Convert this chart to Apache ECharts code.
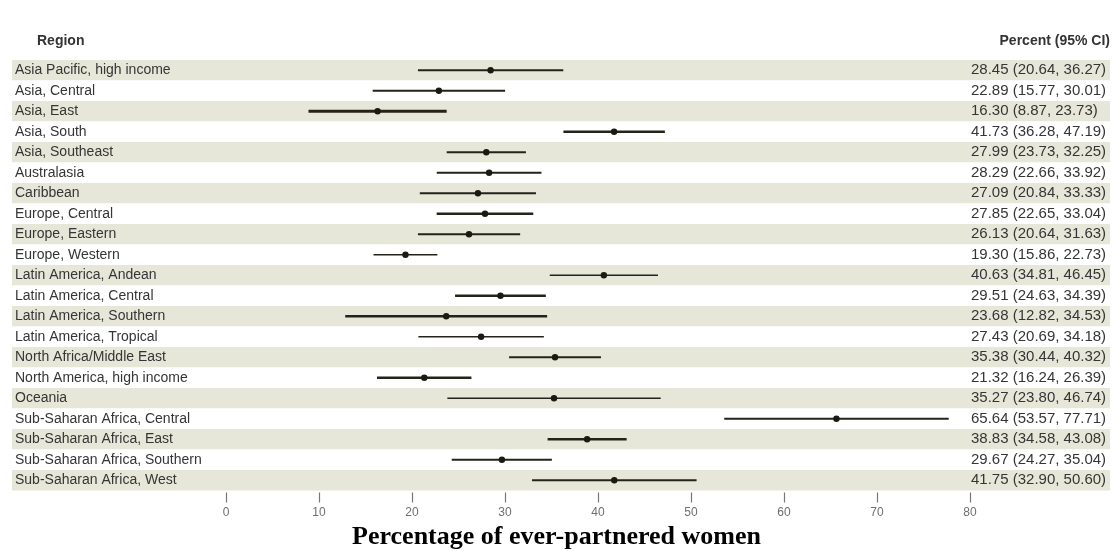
<!DOCTYPE html>
<html>
<head>
<meta charset="utf-8">
<script src="https://cdn.jsdelivr.net/npm/echarts@6/dist/echarts.min.js"></script>
<style>
html,body{margin:0;padding:0;background:#fff;}
#chart{width:1113px;height:551px;}
</style>
</head>
<body>
<div id="chart"></div>
<script>
const regions = [
  "Asia Pacific, high income","Asia, Central","Asia, East","Asia, South","Asia, Southeast",
  "Australasia","Caribbean","Europe, Central","Europe, Eastern","Europe, Western",
  "Latin America, Andean","Latin America, Central","Latin America, Southern","Latin America, Tropical",
  "North Africa/Middle East","North America, high income","Oceania","Sub-Saharan Africa, Central",
  "Sub-Saharan Africa, East","Sub-Saharan Africa, Southern","Sub-Saharan Africa, West"
];
const estimates = [28.45,22.89,16.30,41.73,27.99,28.29,27.09,27.85,26.13,19.30,40.63,29.51,23.68,27.43,35.38,21.32,35.27,65.64,38.83,29.67,41.75];
const lower    = [20.64,15.77,8.87,36.28,23.73,22.66,20.84,22.65,20.64,15.86,34.81,24.63,12.82,20.69,30.44,16.24,23.80,53.57,34.58,24.27,32.90];
const upper    = [36.27,30.01,23.73,47.19,32.25,33.92,33.33,33.04,31.63,22.73,46.45,34.39,34.53,34.18,40.32,26.39,46.74,77.71,43.08,35.04,50.60];
const xTicks = {min: 0, max: 80, interval: 10};
const headerLeft = "Region";
const headerRight = "Percent (95% CI)";
const xTitle = "Percentage of ever-partnered women";

// style only: line thickness per row
const lineWidths = [2,1.8,3,2.5,2,2,2,2.5,2,1.6,1.6,2.5,2.5,1.5,2,2.5,1.5,1.8,2.5,2,2];

const ciLabels = estimates.map((e,i)=> e.toFixed(2)+" ("+lower[i].toFixed(2)+", "+upper[i].toFixed(2)+")");
const seriesData = estimates.map((e,i)=>[i, lower[i], upper[i], e]);

const FONT = '"Liberation Sans", Arial, sans-serif';
const chart = echarts.init(document.getElementById('chart'), null, {renderer:'canvas'});
const GTOP = 60, GH = 430.5;
chart.setOption({
  animation:false,
  backgroundColor:'#ffffff',
  grid:[
    {left:226, width:744, top:GTOP, height:GH, containLabel:false},
    {left:12, right:3, top:GTOP, height:GH, containLabel:false}
  ],
  xAxis:[
    {gridIndex:0, type:'value', min:xTicks.min, max:xTicks.max, interval:xTicks.interval,
     offset:2,
     axisLine:{show:false},
     axisTick:{show:true, length:10, lineStyle:{color:'#777777', width:1.2}},
     axisLabel:{color:'#6e6e6e', fontSize:12, fontFamily:FONT, margin:14},
     splitLine:{show:false}},
    {gridIndex:1, type:'value', min:0, max:1, show:false}
  ],
  yAxis:[
    {gridIndex:0, type:'category', data:regions, inverse:true, position:'left',
     axisLine:{show:false}, axisTick:{show:false},
     axisLabel:{align:'left', margin:211, color:'#353535', fontSize:14, fontFamily:FONT},
     splitLine:{show:false}},
    {gridIndex:0, type:'category', data:ciLabels, inverse:true, position:'right',
     axisLine:{show:false}, axisTick:{show:false},
     axisLabel:{align:'left', margin:1, color:'#353535', fontSize:15, fontFamily:FONT},
     splitLine:{show:false}},
    {gridIndex:1, type:'category', data:regions, inverse:true,
     axisLine:{show:false}, axisTick:{show:false}, axisLabel:{show:false},
     splitLine:{show:false},
     splitArea:{show:true, areaStyle:{color:['#e7e7d9','#ffffff']}}}
  ],
  graphic:[
    {type:'text', left:37, top:34, style:{text:headerLeft, font:'bold 14px '+FONT, fill:'#333333'}},
    {type:'text', right:3, top:34, style:{text:headerRight, font:'bold 14px '+FONT, fill:'#333333', textAlign:'right'}},
    {type:'text', left:'center', top:524, style:{text:xTitle, font:'bold 26px "Liberation Serif", "Times New Roman", serif', fill:'#000000'}}
  ],
  series:[{
    type:'custom',
    xAxisIndex:0, yAxisIndex:0,
    data:seriesData,
    encode:{x:[1,2,3], y:0},
    renderItem:function(params, api){
      const idx = api.value(0);
      const p1 = api.coord([api.value(1), idx]);
      const p2 = api.coord([api.value(2), idx]);
      const pc = api.coord([api.value(3), idx]);
      return {type:'group', children:[
        {type:'line', shape:{x1:p1[0], y1:p1[1], x2:p2[0], y2:p2[1]},
         style:{stroke:'#23231a', lineWidth:lineWidths[params.dataIndex]}},
        {type:'circle', shape:{cx:pc[0], cy:pc[1], r:3.2}, style:{fill:'#1a1a12'}}
      ]};
    }
  }]
});
</script>
</body>
</html>
